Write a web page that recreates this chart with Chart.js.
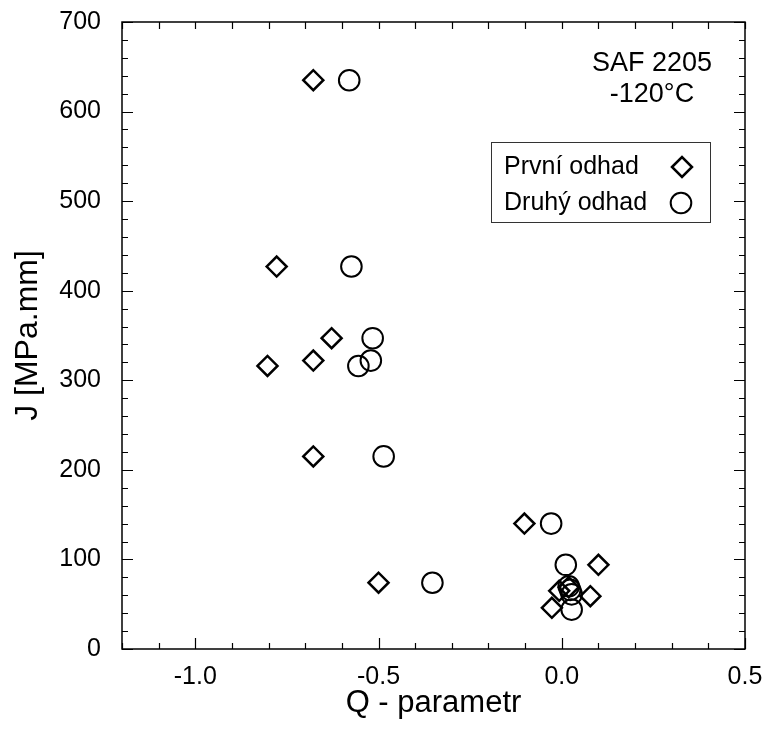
<!DOCTYPE html>
<html>
<head>
<meta charset="utf-8">
<title>J vs Q</title>
<script src="https://cdn.jsdelivr.net/npm/chart.js@4.4.1/dist/chart.umd.min.js"></script>
<style>
  html, body { margin: 0; padding: 0; background: #fff; }
  #wrap { width: 765px; height: 729px; }
</style>
</head>
<body>
<div id="wrap"><canvas id="c" width="765" height="729"></canvas></div>
<script>
// Q-parameter and J-integral values for the two estimates
const seriesNames = ['První odhad', 'Druhý odhad'];
const qFirst  = [-0.678, -0.778, -0.628, -0.678, -0.803, -0.678, -0.102, 0.100, -0.500, -0.007, 0.019, 0.078, -0.027];
const jFirst  = [635, 427, 347, 322, 316, 215, 140, 94, 74, 65, 69, 59, 46];
const qSecond = [-0.580, -0.574, -0.516, -0.521, -0.555, -0.486, -0.029, 0.011, -0.353, 0.019, 0.023, 0.027, 0.027];
const jSecond = [635, 427, 347, 322, 316, 215, 140, 94, 74, 70, 66, 61, 44];

// Axis ticks
const xTickValues = [-1.0, -0.5, 0.0, 0.5];
const xTickLabels = ['-1.0', '-0.5', '0.0', '0.5'];
const yTickValues = [0, 100, 200, 300, 400, 500, 600, 700];
const yTickLabels = ['0', '100', '200', '300', '400', '500', '600', '700'];

const xTitle = 'Q - parametr';
const yTitle = 'J [MPa.mm]';
const noteLines = ['SAF 2205', '-120°C'];

const FONT = "'Liberation Sans', Arial, sans-serif";

function toPoints(xs, ys) {
  return xs.map((x, i) => ({ x: x, y: ys[i] }));
}

function pathDiamond(ctx, x, y, r) {
  ctx.beginPath();
  ctx.moveTo(x - r, y);
  ctx.lineTo(x, y - r);
  ctx.lineTo(x + r, y);
  ctx.lineTo(x, y + r);
  ctx.closePath();
}

// Frame with inward tick marks on all four sides
const frameTicks = {
  id: 'frameTicks',
  afterDraw(chart) {
    const ctx = chart.ctx;
    const a = chart.chartArea;
    const xs = chart.scales.x, ys = chart.scales.y;
    ctx.save();
    ctx.strokeStyle = '#000';
    ctx.lineWidth = 1.5;
    ctx.strokeRect(a.left, a.top, a.right - a.left, a.bottom - a.top);
    ctx.lineWidth = 1.2;
    ctx.beginPath();
    for (let k = -12; k <= 5; k++) {
      const px = Math.round(xs.getPixelForValue(k / 10)) + 0.5;
      const major = k % 5 === 0;
      const lb = major ? 11 : 6;
      ctx.moveTo(px, a.bottom);
      ctx.lineTo(px, a.bottom - lb);
      ctx.moveTo(px, a.top);
      ctx.lineTo(px, a.top + 7);
    }
    for (let v = 0; v <= 700; v += 20) {
      const py = Math.round(ys.getPixelForValue(v)) + 0.5;
      const major = v % 100 === 0;
      const len = major ? 11 : 6;
      ctx.moveTo(a.left, py);
      ctx.lineTo(a.left + len, py);
      ctx.moveTo(a.right, py);
      ctx.lineTo(a.right - len, py);
    }
    ctx.stroke();
    ctx.restore();
  }
};

// Material note and boxed legend inside the plot
const notesAndLegend = {
  id: 'notesAndLegend',
  afterDraw(chart) {
    const ctx = chart.ctx;
    ctx.save();
    ctx.fillStyle = '#000';
    ctx.font = '27px ' + FONT;
    ctx.textAlign = 'center';
    ctx.textBaseline = 'middle';
    ctx.fillText(noteLines[0], 652, 64);
    ctx.fillText(noteLines[1], 652, 95);

    // legend box
    ctx.strokeStyle = '#333';
    ctx.lineWidth = 1;
    ctx.strokeRect(491.5, 142.5, 219, 80);
    ctx.font = '25px ' + FONT;
    ctx.textAlign = 'left';
    ctx.fillText(chart.data.datasets[0].label, 504, 167);
    ctx.fillText(chart.data.datasets[1].label, 504, 203);

    ctx.strokeStyle = '#000';
    ctx.lineWidth = 2.5;
    pathDiamond(ctx, 682, 167, 10);
    ctx.stroke();
    ctx.lineWidth = 2;
    ctx.beginPath();
    ctx.arc(681, 203, 10.3, 0, Math.PI * 2);
    ctx.stroke();
    ctx.restore();
  }
};

new Chart(document.getElementById('c'), {
  type: 'scatter',
  data: {
    datasets: [
      {
        label: seriesNames[0],
        data: toPoints(qFirst, jFirst),
        pointStyle: 'rectRot',
        pointRadius: 10,
        pointHoverRadius: 10,
        borderColor: '#000',
        backgroundColor: 'rgba(0,0,0,0)',
        borderWidth: 2.5,
        pointBorderWidth: 2.5
      },
      {
        label: seriesNames[1],
        data: toPoints(qSecond, jSecond),
        pointStyle: 'circle',
        pointRadius: 10.3,
        pointHoverRadius: 10.3,
        borderColor: '#000',
        backgroundColor: 'rgba(0,0,0,0)',
        borderWidth: 2,
        pointBorderWidth: 2
      }
    ]
  },
  options: {
    responsive: false,
    animation: false,
    devicePixelRatio: 1,
    layout: { padding: { left: 0, right: 20, top: 22, bottom: 0 } },
    plugins: {
      legend: { display: false },
      tooltip: { enabled: false }
    },
    scales: {
      x: {
        type: 'linear',
        min: -1.2,
        max: 0.5,
        grid: { display: false },
        border: { display: false },
        afterBuildTicks(scale) {
          scale.ticks = xTickValues.map(v => ({ value: v }));
        },
        afterFit(scale) {
          scale.height = 80;
          scale.paddingLeft = 0;
          scale.paddingRight = 0;
        },
        ticks: {
          color: '#000',
          padding: 5,
          maxRotation: 0,
          autoSkip: false,
          font: { family: FONT, size: 25 },
          callback(value) {
            const i = xTickValues.findIndex(v => Math.abs(v - value) < 1e-9);
            return i >= 0 ? xTickLabels[i] : '';
          }
        },
        title: {
          display: true,
          text: xTitle,
          color: '#000',
          font: { family: FONT, size: 31 },
          padding: { top: 0, bottom: 7 }
        }
      },
      y: {
        type: 'linear',
        min: 0,
        max: 700,
        grid: { display: false },
        border: { display: false },
        afterBuildTicks(scale) {
          scale.ticks = yTickValues.map(v => ({ value: v }));
        },
        afterFit(scale) {
          scale.width = 122;
          scale.paddingTop = 0;
          scale.paddingBottom = 0;
        },
        ticks: {
          color: '#000',
          padding: 13,
          autoSkip: false,
          font: { family: FONT, size: 25 },
          callback(value) {
            const i = yTickValues.indexOf(value);
            return i >= 0 ? yTickLabels[i] : '';
          }
        },
        title: {
          display: true,
          text: yTitle,
          color: '#000',
          font: { family: FONT, size: 32 },
          padding: { top: 9, bottom: 0 }
        }
      }
    }
  },
  plugins: [frameTicks, notesAndLegend]
});
</script>
</body>
</html>
